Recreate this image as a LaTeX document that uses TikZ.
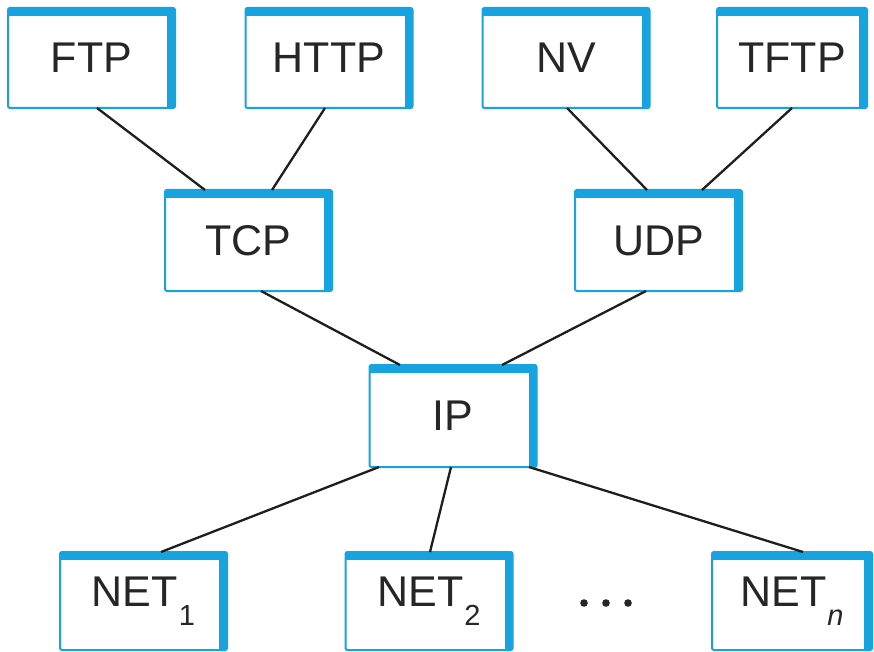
\documentclass[tikz,border=0pt]{standalone}
\usepackage{fontspec}
\setmainfont{Liberation Sans}
\definecolor{boxblue}{RGB}{22,163,224}
\definecolor{linegray}{RGB}{30,30,30}
\tikzset{
  box/.style={rectangle, draw=boxblue, line width=2pt, fill=white, rounded corners=2pt,
    inner sep=0pt, outer sep=0pt, minimum width=167pt, minimum height=100pt,
    font=\fontsize{43}{47}\selectfont, text=black!85},
  band/.style={draw=boxblue, line width=8pt},
  conn/.style={draw=linegray, line width=2.3pt},
}
\newcommand{\bandof}[1]{\draw[band] ([yshift=-4pt]#1.north west) -- ([xshift=-4pt,yshift=-4pt]#1.north east) -- ([xshift=-4pt,yshift=1pt]#1.south east);}
\newcommand{\subtxt}[1]{\kern1pt\raisebox{-0.45em}{\fontsize{29}{31}\selectfont #1}}
\begin{document}
\begin{tikzpicture}[x=1pt,y=-1pt]
\useasboundingbox (0,0) rectangle (874,652);
\node[box] (ftp)  at (91.5,58) {FTP};
\node[box] (http) at (329,58) {HTTP};
\node[box] (nv)   at (566,58) {NV};
\node[box, minimum width=150pt] (tftp) at (792,58) {TFTP};
\node[box, minimum height=101pt] (tcp)  at (248.5,240.5) {TCP};
\node[box, minimum height=101pt] (udp)  at (658.5,240.5) {UDP};
\node[box, minimum height=102pt] (ip)   at (453,416) {IP};
\node[box, minimum height=98pt] (net1) at (143.5,601) {NET\subtxt{1}};
\node[box, minimum height=98pt] (net2) at (429,601) {NET\subtxt{2}};
\node[box, minimum width=160pt, minimum height=98pt] (netn) at (792,601) {NET\subtxt{\itshape n}};
\foreach \n in {ftp,http,nv,tftp,tcp,udp,ip,net1,net2,netn} {\bandof{\n}}
\draw[conn] ([xshift=5.5pt]ftp.south) -- ([xshift=-43.5pt]tcp.north);
\draw[conn] ([xshift=-4pt]http.south) -- ([xshift=23.5pt]tcp.north);
\draw[conn] ([xshift=1pt]nv.south) -- ([xshift=-11.5pt]udp.north);
\draw[conn] (tftp.south) -- ([xshift=43.5pt]udp.north);
\draw[conn] ([xshift=12.5pt]tcp.south) -- ([xshift=-53pt]ip.north);
\draw[conn] ([xshift=-12.5pt]udp.south) -- ([xshift=49pt]ip.north);
\draw[conn] ([xshift=-74pt]ip.south) -- ([xshift=17.5pt]net1.north);
\draw[conn] ([xshift=-2pt]ip.south) -- ([xshift=1pt]net2.north);
\draw[conn] ([xshift=76pt]ip.south) -- ([xshift=11pt]netn.north);
% ellipsis dots
\coordinate (dots) at (606,603);
\foreach \dx in {-22,0,22} {\fill[black!85] ([xshift=\dx pt]dots) circle (3.8pt);}
\end{tikzpicture}
\end{document}
